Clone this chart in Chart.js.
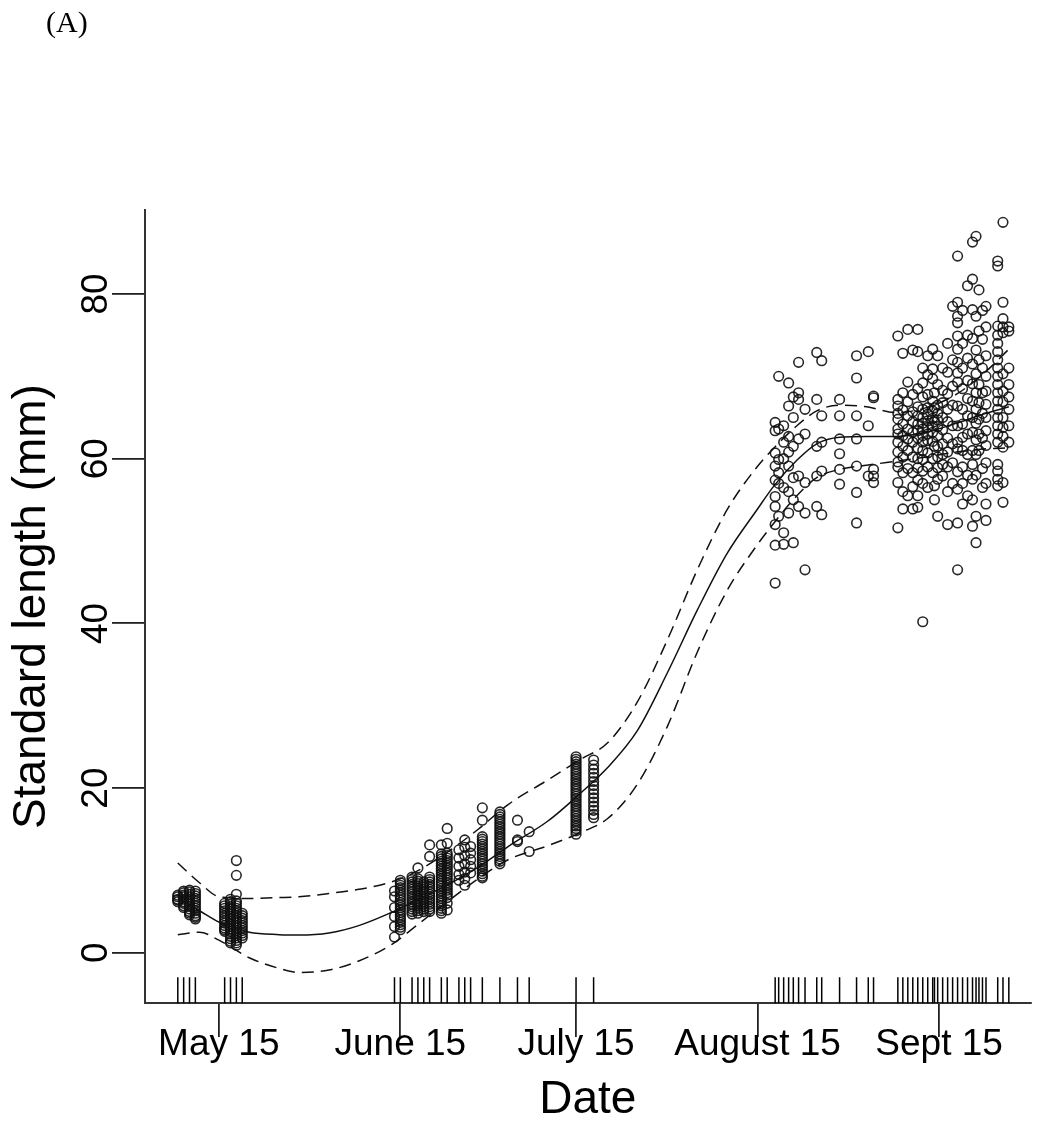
<!DOCTYPE html>
<html><head><meta charset="utf-8">
<script src="https://cdn.jsdelivr.net/npm/chart.js@4.4.0/dist/chart.umd.min.js"></script>
<style>
html,body{margin:0;padding:0;background:#fff;}
#wrap{position:relative;width:1045px;height:1124px;}
#panel{position:absolute;left:46px;top:7px;font-size:30px;line-height:30px;font-family:"Liberation Serif","Times New Roman",serif;color:#000;}
canvas{display:block;}
</style>
</head><body>
<div id="wrap"><div id="panel">(A)</div><canvas id="c" width="1045" height="1124"></canvas></div>
<script>
// ---- data (day of year; length in mm) ----
const tickDays = [135, 166, 196, 227, 258];
const tickLabels = ['May 15', 'June 15', 'July 15', 'August 15', 'Sept 15'];
const yTicks = [0, 20, 40, 60, 80];

const sampleDays = [
  128, 129, 130, 131,
  136, 137, 138, 139,
  165, 166, 168, 169, 170, 171, 173, 174, 176, 177, 178, 180, 183, 186, 188,
  196, 199,
  230.0, 230.6, 231.45, 232.3, 233.1, 234.0, 235.1, 237.1, 237.95, 241.0, 243.9, 245.9, 246.8,
  250.95, 251.8, 252.65, 253.5, 254.35, 255.2, 256.05, 256.9, 257.2, 257.75, 258.6, 259.45,
  260.3, 261.15, 262.0, 262.85, 263.7, 264.3, 264.8, 265.4, 266.0, 268.0, 268.9, 269.9
];
const sampleLengths = [
  [6.2, 6.5, 6.8, 7.0, 6.4],
  [7.5, 7.3, 7.0, 6.8, 6.5, 6.2, 6.0, 5.7, 5.5],
  [7.6, 7.4, 7.1, 6.8, 6.5, 6.2, 5.9, 5.6, 5.3, 5.0, 4.8, 4.6],
  [7.5, 7.2, 6.9, 6.6, 6.3, 6.0, 5.7, 5.4, 5.1, 4.8, 4.5, 4.3, 4.1],
  [6.0, 5.7, 5.4, 5.1, 4.8, 4.5, 4.2, 3.9, 3.6, 3.3, 3.0, 2.8, 2.6],
  [6.5, 6.2, 5.9, 5.6, 5.3, 5.0, 4.7, 4.4, 4.1, 3.8, 3.5, 3.2, 2.9, 2.6, 2.3, 2.0, 1.7, 1.4, 1.2],
  [11.2, 9.4, 7.1, 6.3, 6.0, 5.7, 5.4, 5.1, 4.8, 4.5, 4.2, 3.9, 3.6, 3.3, 3.0, 2.7, 2.4, 2.1, 1.8, 1.5, 1.2, 0.9],
  [4.8, 4.5, 4.2, 3.9, 3.6, 3.3, 3.0, 2.7, 2.4, 2.1, 1.8],
  [7.5, 6.8, 5.5, 4.4, 3.2, 1.9],
  [8.8, 8.5, 8.2, 7.9, 7.6, 7.3, 7.0, 6.7, 6.4, 6.1, 5.8, 5.5, 5.2, 4.9, 4.6, 4.3, 4.0, 3.7, 3.4, 3.1, 2.8],
  [9.2, 8.9, 8.6, 8.3, 8.0, 7.7, 7.4, 7.1, 6.8, 6.5, 6.2, 5.9, 5.6, 5.3, 5.0, 4.7],
  [10.3, 9.0, 8.7, 8.4, 8.1, 7.8, 7.5, 7.2, 6.9, 6.6, 6.3, 6.0, 5.7, 5.4, 5.1, 4.8],
  [8.6, 8.3, 8.0, 7.7, 7.4, 7.1, 6.8, 6.5, 6.2, 5.9, 5.6, 5.3, 5.0],
  [13.1, 11.7, 9.2, 8.9, 8.6, 8.3, 8.0, 7.7, 7.4, 7.1, 6.8, 6.5, 6.2, 5.9, 5.6, 5.3, 5.0],
  [13.1, 12.0, 11.7, 11.4, 11.1, 10.8, 10.5, 10.2, 9.9, 9.6, 9.3, 9.0, 8.7, 8.4, 8.1, 7.8, 7.5, 7.2, 6.9, 6.6, 6.3, 6.0, 5.7, 5.4, 5.1, 4.8],
  [15.1, 13.3, 12.1, 11.8, 11.5, 11.2, 10.9, 10.6, 10.3, 10.0, 9.7, 9.4, 9.1, 8.8, 8.5, 8.2, 7.9, 7.6, 7.3, 7.0, 6.7, 6.0, 5.2],
  [12.5, 11.5, 10.5, 9.5, 8.8],
  [13.7, 12.8, 11.8, 10.8, 9.8, 9.0, 8.2],
  [12.9, 12.1, 11.3, 10.5, 9.7],
  [17.6, 16.1, 14.1, 13.8, 13.5, 13.2, 12.9, 12.6, 12.3, 12.0, 11.7, 11.4, 11.1, 10.8, 10.5, 10.2, 9.9, 9.6, 9.3, 9.1],
  [17.1, 16.8, 16.5, 16.2, 15.9, 15.6, 15.3, 15.0, 14.7, 14.4, 14.1, 13.8, 13.5, 13.2, 12.9, 12.6, 12.3, 12.0, 11.7, 11.4, 11.1, 10.8],
  [16.1, 13.7, 13.5],
  [14.7, 12.3],
  [23.8, 23.5, 23.2, 22.9, 22.6, 22.3, 22.0, 21.7, 21.4, 21.1, 20.8, 20.5, 20.2, 19.9, 19.6, 19.3, 19.0, 18.7, 18.4, 18.1,
   17.8, 17.5, 17.2, 16.9, 16.6, 16.3, 16.0, 15.7, 15.4, 15.1, 14.8, 14.4],
  [23.4, 22.8, 22.3, 21.8, 21.3, 20.8, 20.3, 19.8, 19.3, 18.8, 18.3, 17.8, 17.3, 16.8, 16.4],
  [64.4, 63.4, 60.7, 59.1, 57.4, 55.4, 54.2, 52.0, 49.5, 44.9],
  [70.0, 63.6, 59.9, 58.3, 57.0, 53.0],
  [64.0, 62.0, 60.0, 56.5, 51.0, 49.6],
  [69.2, 66.4, 62.7, 60.8, 59.1, 56.0, 53.4],
  [67.5, 65.0, 61.5, 57.7, 55.0, 49.8],
  [71.7, 68.0, 67.2, 62.4, 57.9, 54.2],
  [66.0, 63.0, 57.1, 53.4, 46.5],
  [72.9, 67.2, 61.5, 57.9, 54.2],
  [71.9, 65.2, 62.0, 58.5, 53.2],
  [67.2, 65.2, 62.4, 60.6, 58.7, 56.9],
  [72.5, 69.8, 65.2, 62.4, 59.1, 55.9, 52.2],
  [73.0, 64.0, 57.9],
  [67.6, 67.4, 58.7, 57.9, 57.1],
  [74.9, 67.2, 66.4, 64.8, 63.6, 62.0, 60.8, 59.6, 59.0, 57.1, 51.6, 63.0, 65.5],
  [72.8, 68.0, 65.9, 64.2, 62.8, 61.5, 60.2, 58.3, 56.0, 53.9],
  [75.7, 69.3, 66.9, 65.2, 63.6, 62.4, 61.0, 58.8, 55.5],
  [73.2, 67.8, 65.7, 64.5, 63.2, 62.0, 60.2, 58.3, 56.6, 53.9],
  [75.7, 73.0, 68.5, 66.3, 65.2, 64.2, 63.4, 62.5, 61.3, 60.0, 58.9, 57.4, 55.5, 54.1],
  [71.0, 69.2, 67.5, 66.0, 65.0, 64.3, 63.6, 62.8, 62.0, 61.0, 59.9, 58.5, 57.0, 40.2],
  [72.5, 70.2, 67.8, 66.2, 65.4, 64.6, 63.8, 63.0, 62.2, 60.7, 59.0, 56.5],
  [73.3, 70.9, 69.7, 67.0, 65.8, 64.9, 64.0, 63.2, 62.1, 60.0, 58.3],
  [68.0, 66.2, 64.5, 61.5, 56.7, 55.0],
  [72.5, 69.0, 66.5, 65.5, 64.7, 63.9, 62.8, 61.5, 60.2, 58.9, 57.5, 53.0],
  [71.0, 68.3, 66.8, 65.0, 63.5, 61.8, 60.5, 59.3, 57.9],
  [74.0, 70.5, 67.9, 66.0, 64.5, 62.5, 60.8, 59.0, 56.0, 52.0],
  [78.5, 72.0, 68.8, 66.5, 64.0, 61.8, 59.5, 57.0],
  [84.6, 79.0, 77.3, 76.5, 74.9, 73.3, 71.7, 70.4, 69.3, 66.4, 64.0, 62.0, 61.2, 58.4, 56.3, 52.2, 46.5],
  [78.0, 74.0, 71.0, 68.5, 66.0, 64.2, 62.6, 61.0, 59.0, 57.0, 54.5],
  [81.0, 75.0, 72.2, 69.5, 67.3, 65.2, 63.0, 60.5, 58.0, 55.5],
  [86.3, 81.8, 78.1, 74.6, 71.5, 69.1, 67.0, 65.0, 63.2, 61.0, 59.3, 57.5, 55.0, 51.8],
  [87.0, 77.3, 73.2, 70.3, 68.0, 66.0, 64.3, 62.3, 60.5, 58.0, 53.0, 49.8],
  [80.5, 75.5, 72.0, 69.0, 66.8, 64.8, 63.0, 61.0],
  [78.0, 74.5, 71.0, 68.0, 65.5, 62.5, 58.8, 56.5],
  [78.5, 76.0, 72.5, 70.0, 68.2, 66.6, 65.0, 63.4, 61.6, 59.5, 57.0, 54.5, 52.5],
  [84.0, 83.4, 76.1, 75.0, 74.0, 73.0, 72.0, 71.0, 70.0, 69.0, 68.0, 67.0, 66.0, 65.0, 64.0, 63.0, 62.0, 59.3, 58.5, 57.5, 56.7],
  [88.7, 79.0, 77.0, 76.0, 75.3, 70.3, 68.2, 66.9, 65.0, 63.8, 62.7, 61.4, 57.1, 54.7],
  [76.0, 75.5, 71.0, 69.0, 67.5, 66.0, 64.0, 62.0]
];

const curveDays = [128, 131.7, 135.1, 140.2, 145.3, 148.7, 153.8, 158.9, 164.5, 169.1, 174.2, 179.3, 184.4, 191.2,
  196.8, 201.4, 206.5, 211.6, 216.7, 221.8, 226.9, 229.8, 233.7, 237.1, 241.0, 245.6, 250.7, 255.8, 260.9, 266.0, 269.9];
const fitMean = [6.6, 5.1, 3.7, 2.5, 2.2, 2.15, 2.4, 3.3, 4.9, 6.5, 8.3, 10.4, 12.9, 16.0,
  19.4, 22.5, 27.0, 34.0, 41.6, 48.5, 53.8, 56.7, 59.8, 61.8, 62.6, 62.7, 62.7, 63.2, 64.3, 65.5, 66.3];
const fitUpper = [10.9, 8.5, 6.8, 6.6, 6.7, 6.8, 7.2, 7.7, 8.6, 10.0, 12.3, 15.0, 18.0, 21.0,
  23.5, 25.5, 30.5, 38.0, 46.5, 53.8, 59.0, 61.3, 64.0, 65.8, 66.5, 66.3, 65.6, 66.2, 67.8, 70.6, 73.3];
const fitLower = [2.2, 2.5, 1.5, -0.6, -1.9, -2.4, -2.1, -1.0, 1.0, 3.5, 6.3, 9.0, 11.3, 13.0,
  14.6, 16.3, 20.5, 27.5, 36.5, 44.0, 49.5, 52.2, 55.5, 57.7, 58.7, 59.2, 59.7, 60.2, 60.8, 61.2, 61.3];

// ---- build ----
const points = [];
sampleDays.forEach((d, i) => sampleLengths[i].forEach(v => points.push({x: d, y: v})));
const rugY = -4.55;
const rug = sampleDays.map(d => ({x: d, y: rugY}));
const curve = arr => curveDays.map((d, i) => ({x: d, y: arr[i]}));

const FONT = "'Liberation Sans', Arial, Helvetica, sans-serif";
const lineDs = (arr, dash) => ({
  data: curve(arr), showLine: true, borderColor: '#111', borderWidth: 1.5,
  borderDash: dash, pointRadius: 0, cubicInterpolationMode: 'monotone', fill: false
});

new Chart(document.getElementById('c'), {
  type: 'scatter',
  data: { datasets: [
    lineDs(fitMean, []),
    lineDs(fitUpper, [12, 7]),
    lineDs(fitLower, [12, 7]),
    { data: points, showLine: false, pointStyle: 'circle', pointRadius: 4.8, pointHoverRadius: 4.8,
      pointBorderWidth: 1.6, pointBorderColor: 'rgba(17,17,17,0.9)', pointBackgroundColor: 'rgba(0,0,0,0)' },
    { data: rug, showLine: false, pointStyle: 'line', pointRadius: 13, pointRotation: 90,
      pointBorderWidth: 1.5, pointBorderColor: '#000', clip: false }
  ]},
  options: {
    responsive: false, animation: false, devicePixelRatio: 1,
    layout: { padding: { top: 210, right: 10, left: 0, bottom: 0 } },
    plugins: { legend: { display: false }, tooltip: { enabled: false } },
    scales: {
      x: {
        type: 'linear', min: 122.4, max: 273.6,
        afterBuildTicks: s => { s.ticks = tickDays.map(v => ({ value: v })); },
        afterFit: s => { s.height = 121; },
        ticks: { callback: v => tickLabels[tickDays.indexOf(v)], font: { family: FONT, size: 37, lineHeight: 1 },
          color: '#000', padding: -11, maxRotation: 0, minRotation: 0, autoSkip: false },
        grid: { drawOnChartArea: false, drawTicks: true, tickLength: 34, color: '#222', lineWidth: 1.8 },
        border: { display: true, color: '#333', width: 2 },
        title: { display: true, text: 'Date', font: { family: FONT, size: 46, lineHeight: 1 }, color: '#000',
          padding: { top: 0, bottom: 1 } }
      },
      y: {
        type: 'linear', min: -6.1, max: 90.2,
        afterBuildTicks: s => { s.ticks = yTicks.map(v => ({ value: v })); },
        afterFit: s => { s.width = 145; },
        ticks: { callback: v => String(v), font: { family: FONT, size: 37, lineHeight: 1 }, color: '#000',
          padding: -5, minRotation: 90, maxRotation: 90, crossAlign: 'center' },
        grid: { drawOnChartArea: false, drawTicks: true, tickLength: 33, color: '#222', lineWidth: 1.8 },
        border: { display: true, color: '#333', width: 2 },
        title: { display: true, text: 'Standard length (mm)', font: { family: FONT, size: 46, lineHeight: 1 },
          color: '#000', padding: { top: 9, bottom: 0 } }
      }
    }
  }
});
</script>
</body></html>
